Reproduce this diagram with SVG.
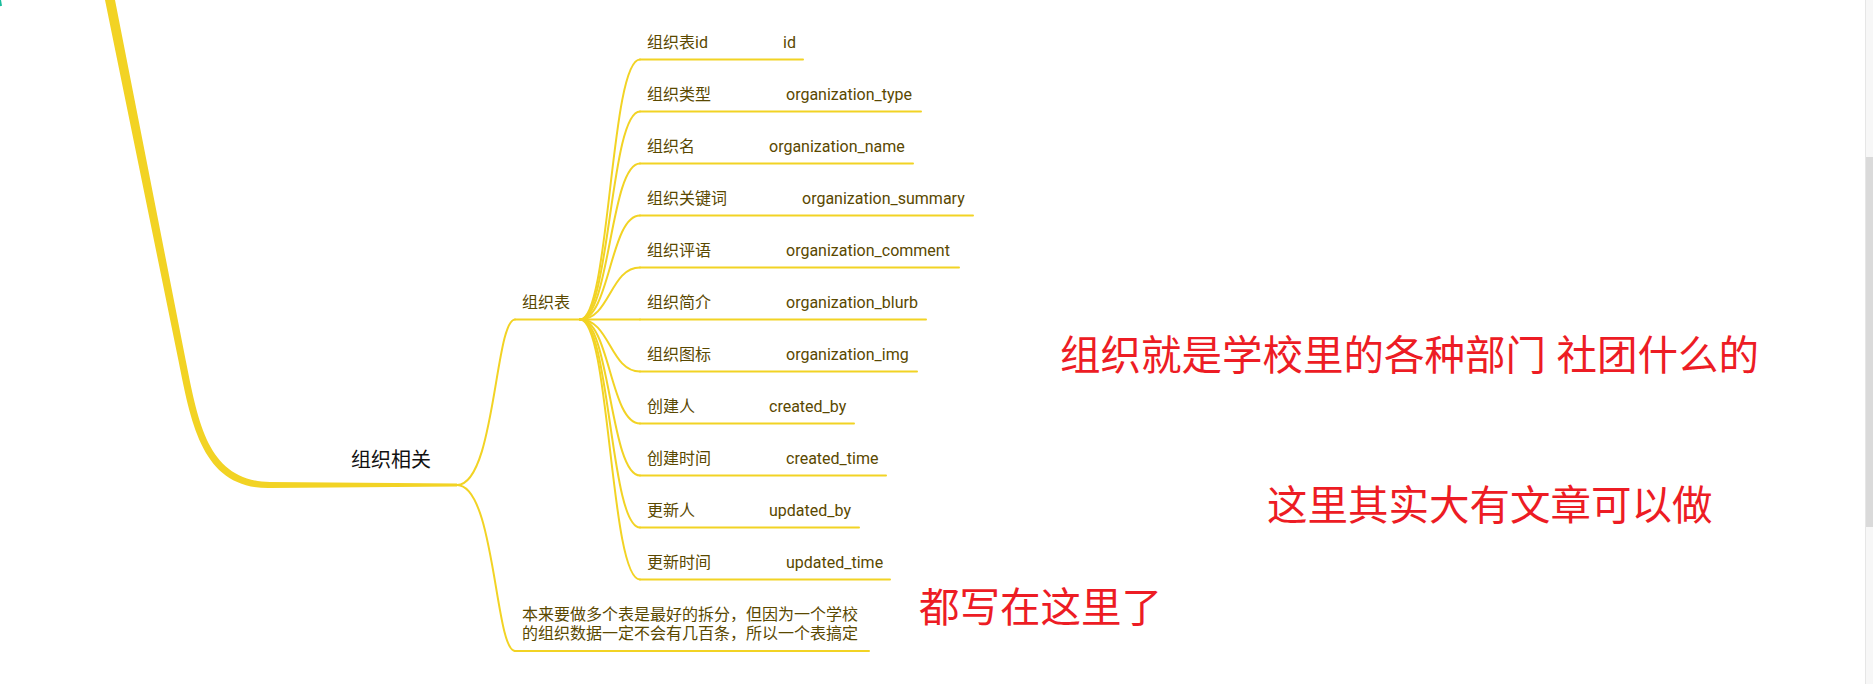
<svg xmlns="http://www.w3.org/2000/svg" width="1873" height="684" viewBox="0 0 1873 684">
<style>
.bg{fill:#ffffff}
.ln{fill:none;stroke:#F2D324;stroke-width:2;stroke-linecap:round}
.thick{fill:#F2D324}
.lbl{font-family:Roboto,"Noto Sans CJK SC",sans-serif;font-size:16px;fill:#5a4800}
.main{font-family:Roboto,"Noto Sans CJK SC",sans-serif;font-size:20px;fill:#111111}
.red{font-family:"Noto Sans CJK SC",sans-serif;font-size:40.5px;fill:#ED1C24}
</style>
<rect class="bg" x="0" y="0" width="1873" height="684"/>
<path d="M0,0 L1,6" stroke="#1abc9c" stroke-width="2" fill="none"/>

<g id="connectors">
  <path class="thick" d="M105,0 L178.5,360.7 C191.5,426 203,489 270,488 L457,486.5 L457,483.5 L270,482 C208,481 198.5,424 185.5,359.3 L115,0 Z"/>
  <path class="ln" d="M457,485 C495,485 495,319.5 515,319.5"/>
  <path class="ln" d="M457,485 C495,485 495,651 515,651"/>
  <path class="ln" d="M580,319.5 C610,319.5 610,59.5 640,59.5"/>
  <path class="ln" d="M580,319.5 C610,319.5 610,111.5 640,111.5"/>
  <path class="ln" d="M580,319.5 C610,319.5 610,163.5 640,163.5"/>
  <path class="ln" d="M580,319.5 C610,319.5 610,215.5 640,215.5"/>
  <path class="ln" d="M580,319.5 C610,319.5 610,267.5 640,267.5"/>
  <path class="ln" d="M580,319.5 L640,319.5"/>
  <path class="ln" d="M580,319.5 C610,319.5 610,371.5 640,371.5"/>
  <path class="ln" d="M580,319.5 C610,319.5 610,423.5 640,423.5"/>
  <path class="ln" d="M580,319.5 C610,319.5 610,475.5 640,475.5"/>
  <path class="ln" d="M580,319.5 C610,319.5 610,527.5 640,527.5"/>
  <path class="ln" d="M580,319.5 C610,319.5 610,579.5 640,579.5"/>
</g>

<g id="node-org-related">
  <text class="main" x="351" y="467">组织相关</text>
</g>

<g id="node-org-table">
  <path class="ln" d="M515,319.5 L580,319.5"/>
  <text class="lbl" x="522" y="307.5">组织表</text>
</g>

<g id="node-id">
  <path class="ln" d="M640,59.5 L803,59.5"/>
  <text class="lbl" x="647" y="47.5">组织表id</text>
  <text class="lbl" x="783" y="47.5">id</text>
</g>
<g id="node-type">
  <path class="ln" d="M640,111.5 L921,111.5"/>
  <text class="lbl" x="647" y="99.5">组织类型</text>
  <text class="lbl" x="786" y="99.5">organization_type</text>
</g>
<g id="node-name">
  <path class="ln" d="M640,163.5 L913,163.5"/>
  <text class="lbl" x="647" y="151.5">组织名</text>
  <text class="lbl" x="769" y="151.5">organization_name</text>
</g>
<g id="node-summary">
  <path class="ln" d="M640,215.5 L973,215.5"/>
  <text class="lbl" x="647" y="203.5">组织关键词</text>
  <text class="lbl" x="802" y="203.5">organization_summary</text>
</g>
<g id="node-comment">
  <path class="ln" d="M640,267.5 L959,267.5"/>
  <text class="lbl" x="647" y="255.5">组织评语</text>
  <text class="lbl" x="786" y="255.5">organization_comment</text>
</g>
<g id="node-blurb">
  <path class="ln" d="M640,319.5 L926,319.5"/>
  <text class="lbl" x="647" y="307.5">组织简介</text>
  <text class="lbl" x="786" y="307.5">organization_blurb</text>
</g>
<g id="node-img">
  <path class="ln" d="M640,371.5 L917,371.5"/>
  <text class="lbl" x="647" y="359.5">组织图标</text>
  <text class="lbl" x="786" y="359.5">organization_img</text>
</g>
<g id="node-created-by">
  <path class="ln" d="M640,423.5 L854,423.5"/>
  <text class="lbl" x="647" y="411.5">创建人</text>
  <text class="lbl" x="769" y="411.5">created_by</text>
</g>
<g id="node-created-time">
  <path class="ln" d="M640,475.5 L886,475.5"/>
  <text class="lbl" x="647" y="463.5">创建时间</text>
  <text class="lbl" x="786" y="463.5">created_time</text>
</g>
<g id="node-updated-by">
  <path class="ln" d="M640,527.5 L859,527.5"/>
  <text class="lbl" x="647" y="515.5">更新人</text>
  <text class="lbl" x="769" y="515.5">updated_by</text>
</g>
<g id="node-updated-time">
  <path class="ln" d="M640,579.5 L890,579.5"/>
  <text class="lbl" x="647" y="567.5">更新时间</text>
  <text class="lbl" x="786" y="567.5">updated_time</text>
</g>

<g id="node-note">
  <path class="ln" d="M515,651 L869,651"/>
  <text class="lbl" x="522" y="619.5">本来要做多个表是最好的拆分，但因为一个学校</text>
  <text class="lbl" x="522" y="638.5">的组织数据一定不会有几百条，所以一个表搞定</text>
</g>

<g id="annotations">
  <text class="red" x="1060" y="370">组织就是学校里的各种部门 <tspan x="1556.5">社团什么的</tspan></text>
  <text class="red" x="1267" y="520">这里其实大有文章可以做</text>
  <text class="red" x="919" y="622">都写在这里了</text>
</g>

<g id="scrollbar">
  <rect x="1865" y="0" width="8" height="684" fill="#f7f7f7"/>
  <rect x="1865" y="0" width="1" height="684" fill="#e6e6e6"/>
  <rect x="1866" y="157" width="7" height="370" fill="#dadada"/>
</g>
</svg>
